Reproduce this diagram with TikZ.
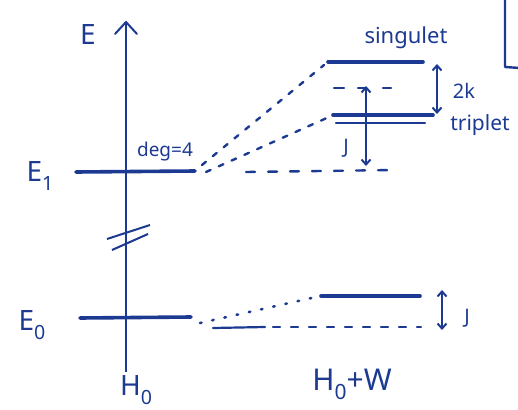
\documentclass[tikz,border=0pt]{standalone}
\usepackage{fontspec}
\setmainfont{Noto Sans}
\usetikzlibrary{arrows.meta}
\definecolor{ink}{RGB}{28,58,145}
\newcommand{\lsub}[1]{\raisebox{-0.3em}{\scalebox{0.7}{#1}}}
\begin{document}
\begin{tikzpicture}[x=1pt,y=-1pt,
  every node/.style={text=ink,inner sep=0pt},
  level/.style={draw=ink,line width=3.6pt,line cap=round},
  thinlevel/.style={draw=ink,line width=2.2pt,line cap=round},
  corr/.style={draw=ink,line width=2.4pt,dash pattern=on 5pt off 9pt,line cap=round},
  dots/.style={draw=ink,line width=2.6pt,dash pattern=on 1.5pt off 11pt,line cap=round},
  axisline/.style={draw=ink,line width=2pt},
  dbl/.style={draw=ink,line width=2pt,{Straight Barb[length=5pt,width=9pt]}-{Straight Barb[length=5pt,width=9pt]}},
  lbl/.style={font=\fontsize{20}{20}\selectfont},
  big/.style={font=\fontsize{28}{28}\selectfont}]
\useasboundingbox (0,0) rectangle (518,409);
% axis
\coordinate (axb) at (126,372);
\coordinate (axt) at (126,22);
\draw[axisline] (axb) -- (axt);
\draw[axisline,line cap=round,line join=round] (115,34) -- (axt) -- (137,34);
\node[big] (E) at (88,35) {E};
% break marks
\coordinate (b1a) at (107,239); \coordinate (b1b) at (150,225);
\coordinate (b2a) at (112,250); \coordinate (b2b) at (148,234);
\draw[axisline] (b1a) -- (b1b);
\draw[axisline] (b2a) -- (b2b);
% H0 levels
\coordinate (e1l) at (76,172); \coordinate (e1r) at (195,171);
\draw[level] (e1l) -- (e1r);
\node[big] (E1) at (40,176) {E\lsub{1}};
\node[lbl,font=\fontsize{19}{19}\selectfont] (deg) at (165,152) {deg=4};
\coordinate (e0l) at (80,318); \coordinate (e0r) at (191,317);
\draw[level] (e0l) -- (e0r);
\node[big] (E0) at (32,325) {E\lsub{0}};
\node[big] (H0) at (136,390) {H\lsub{0}};
\node[big,font=\fontsize{30}{30}\selectfont] (H0W) at (352,384) {H\lsub{0}+W};
% upper split
\coordinate (sl) at (328,62); \coordinate (sr) at (423,62);
\draw[level] (sl) -- (sr);
\node[lbl,font=\fontsize{22}{22}\selectfont] (sing) at (406,38) {singulet};
\coordinate (tl) at (333,115); \coordinate (tr) at (433,115);
\draw[level] (tl) -- (tr);
\coordinate (tl2) at (336,123); \coordinate (tr2) at (425,123);
\draw[thinlevel] (tl2) -- (tr2);
\node[lbl,font=\fontsize{21}{21}\selectfont] (trip) at (480,125) {triplet};
\coordinate (u1) at (202,165);
\draw[corr] (u1) -- (324,65);
\coordinate (u2) at (206,172);
\draw[corr] (u2) -- (329,117);
\coordinate (hl) at (246,172); \coordinate (hr) at (395,170);
\draw[corr,dash pattern=on 9pt off 13pt] (hl) -- (hr);
\coordinate (ml) at (334,88); \coordinate (mr) at (392,88);
\draw[corr,dash pattern=on 10pt off 14pt on 8pt off 17pt on 8pt off 20pt] (ml) -- (mr);
\coordinate (k1) at (437,64); \coordinate (k2) at (437,114);
\draw[dbl] (k1) -- (k2);
\node[lbl] (twok) at (464,91) {2k};
\coordinate (j1) at (366,86); \coordinate (j2) at (366,166);
\draw[dbl] (j1) -- (j2);
\node[lbl] (J1) at (346,148) {J};
% lower split
\coordinate (gl) at (321,296); \coordinate (gr) at (420,296);
\draw[level] (gl) -- (gr);
\coordinate (d1) at (200,323);
\draw[dots] (d1) -- (316,297);
\coordinate (sl0) at (213,328); \coordinate (sr0) at (265,327);
\draw[thinlevel] (sl0) -- (sr0);
\coordinate (gl2) at (273,327); \coordinate (gr2) at (421,327);
\draw[corr,dash pattern=on 7pt off 11pt] (gl2) -- (gr2);
\coordinate (j3) at (442,290); \coordinate (j4) at (442,330);
\draw[dbl] (j3) -- (j4);
\node[lbl] (J2) at (467,318) {J};
% bracket at right edge
\coordinate (br1) at (505,-2); \coordinate (br2) at (505,67); \coordinate (br3) at (520,68);
\draw[draw=ink,line width=2.4pt,line join=round] (br1) -- (br2) -- (br3);
\end{tikzpicture}
\end{document}
